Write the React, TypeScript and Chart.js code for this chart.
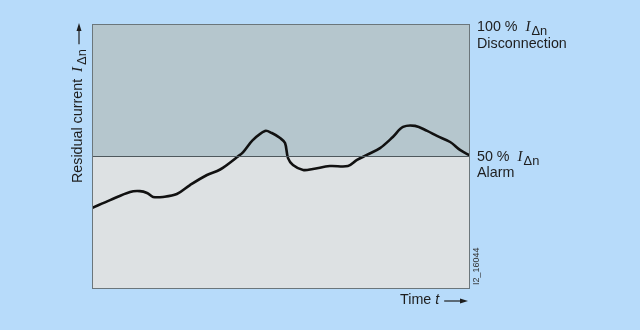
import React, { useEffect, useRef } from "react";
import { Chart, registerables } from "chart.js";

Chart.register(...registerables);

// Time (0..100 % of plot width) and residual current (% of IΔn)
const timeValues = [0, 4.8, 10.1, 12.7, 14.6, 16.2, 18.8, 22.5, 26.0, 30.5, 33.2, 34.7, 38.5, 40.1, 42.7, 45.9, 47.7, 49.9, 51.2, 52.0, 53.3, 56.0, 58.6, 63.1, 67.9, 70.3, 72.9, 76.4, 79.8, 82.5, 85.7, 88.9, 91.5, 95.0, 97.6, 100];
const currentValues = [30.3, 33.3, 36.4, 36.7, 36.0, 34.5, 34.5, 35.6, 39.0, 42.8, 44.3, 45.5, 49.6, 51.5, 56.1, 59.5, 58.7, 56.8, 54.9, 49.2, 46.6, 44.7, 45.1, 46.2, 46.2, 48.5, 50.4, 53.0, 57.2, 61.0, 61.4, 59.5, 57.6, 55.3, 52.3, 50.4];
const alarmLevel = 50;
const disconnectLevel = 100;
const labelDisconnect = ["100 %", "Disconnection"];
const labelAlarm = ["50 %", "Alarm"];
const yAxisTitle = "Residual current";
const xAxisTitle = "Time ";
const figureCode = "I2_16044";

const FONT = '"Liberation Sans", Arial, sans-serif';
const SERIF = '"Liberation Serif", "Times New Roman", serif';
const TEXT = "#1e1e1e";
const FS = 14.3;

type Part = { t: string; italic?: boolean; serif?: boolean; sub?: boolean; gap?: number };

function drawRich(ctx: CanvasRenderingContext2D, parts: Part[], x: number, y: number, size: number) {
  let cx = x;
  for (const p of parts) {
    if (p.gap) cx += p.gap;
    if (!p.t) continue;
    const s = p.sub ? size * 0.9 : p.serif ? size * 1.05 : size;
    ctx.font = `${p.italic ? "italic " : ""}${s}px ${p.serif ? SERIF : FONT}`;
    ctx.fillText(p.t, cx, y + (p.sub ? size * 0.3 : 0));
    cx += ctx.measureText(p.t).width;
  }
  return cx;
}

function arrow(ctx: CanvasRenderingContext2D, x1: number, y: number, x2: number) {
  ctx.beginPath();
  ctx.moveTo(x1, y);
  ctx.lineTo(x2 - 6, y);
  ctx.lineWidth = 1.2;
  ctx.strokeStyle = TEXT;
  ctx.stroke();
  ctx.beginPath();
  ctx.moveTo(x2, y);
  ctx.lineTo(x2 - 8, y - 2.5);
  ctx.lineTo(x2 - 8, y + 2.5);
  ctx.closePath();
  ctx.fillStyle = TEXT;
  ctx.fill();
}

const decorPlugin = {
  id: "decor",
  beforeDatasetsDraw(chart: any) {
    const { ctx, chartArea: a, scales } = chart;
    const yMid = scales.y.getPixelForValue(alarmLevel);
    const yTop = scales.y.getPixelForValue(disconnectLevel);
    ctx.save();
    ctx.fillStyle = "#b5c6cd";
    ctx.fillRect(a.left, yTop, a.right - a.left, yMid - yTop);
    ctx.fillStyle = "#dde1e3";
    ctx.fillRect(a.left, yMid, a.right - a.left, a.bottom - yMid);
    ctx.restore();
  },
  afterDatasetsDraw(chart: any) {
    const { ctx, chartArea: a, scales } = chart;
    const yMid = scales.y.getPixelForValue(alarmLevel);
    const yTop = scales.y.getPixelForValue(disconnectLevel);
    ctx.save();
    // midline
    ctx.strokeStyle = "#4e585d";
    ctx.lineWidth = 1;
    ctx.beginPath();
    ctx.moveTo(a.left, Math.round(yMid) + 0.5);
    ctx.lineTo(a.right, Math.round(yMid) + 0.5);
    ctx.stroke();
    // border
    ctx.strokeStyle = "#6b767b";
    ctx.strokeRect(Math.round(a.left) + 0.5, Math.round(a.top) + 0.5, Math.round(a.right - a.left), Math.round(a.bottom - a.top));

    ctx.fillStyle = TEXT;
    ctx.textBaseline = "middle";
    ctx.textAlign = "left";
    const lx = a.right + 8;
    drawRich(ctx, [{ t: labelDisconnect[0] }, { t: "I", italic: true, serif: true, gap: 8 }, { t: "Δn", sub: true, gap: 1 }], lx, yTop + 3, FS);
    drawRich(ctx, [{ t: labelDisconnect[1] }], lx, yTop + 20, FS);
    drawRich(ctx, [{ t: labelAlarm[0] }, { t: "I", italic: true, serif: true, gap: 8 }, { t: "Δn", sub: true, gap: 1 }], lx, yMid + 1, FS);
    drawRich(ctx, [{ t: labelAlarm[1] }], lx, yMid + 17, FS);

    // x title
    const ex = drawRich(ctx, [{ t: xAxisTitle }, { t: "t", italic: true }], 400, a.bottom + 12, FS);
    arrow(ctx, ex + 5, a.bottom + 13, a.right - 1);

    // y title (vertical)
    ctx.save();
    ctx.translate(78, 183);
    ctx.rotate(-Math.PI / 2);
    ctx.fillStyle = TEXT;
    const ey = drawRich(ctx, [{ t: yAxisTitle }, { t: "I", italic: true, serif: true, gap: 7 }, { t: "Δn", sub: true, gap: 2 }], 0, 0, FS);
    arrow(ctx, ey + 5, 1, 160);
    ctx.restore();

    // figure code
    ctx.save();
    ctx.translate(a.right + 8, a.bottom - 3);
    ctx.rotate(-Math.PI / 2);
    ctx.font = `9px ${FONT}`;
    ctx.fillStyle = "#333";
    ctx.fillText(figureCode, 0, 0);
    ctx.restore();
    ctx.restore();
  },
};

export default function App() {
  const ref = useRef<HTMLCanvasElement>(null);
  useEffect(() => {
    document.body.style.margin = "0";
    document.body.style.background = "#b7dbfa";
    const chart = new Chart(ref.current!, {
      type: "line",
      data: {
        datasets: [
          {
            data: timeValues.map((t, i) => ({ x: t, y: currentValues[i] })),
            borderColor: "#111",
            borderWidth: 2.6,
            pointRadius: 0,
            tension: 0.35,
            fill: false,
            borderCapStyle: "round",
            borderJoinStyle: "round",
          },
        ],
      },
      options: {
        animation: false,
        responsive: false,
        layout: { padding: { left: 92, right: 171, top: 24, bottom: 42 } },
        plugins: { legend: { display: false }, tooltip: { enabled: false } },
        scales: {
          x: { type: "linear", min: 0, max: 100, display: false },
          y: { type: "linear", min: 0, max: 100, display: false },
        },
      },
      plugins: [decorPlugin],
    });
    return () => chart.destroy();
  }, []);
  return (
    <div style={{ width: 640, height: 330, background: "#b7dbfa" }}>
      <canvas ref={ref} width={640} height={330} style={{ display: "block" }} />
    </div>
  );
}
